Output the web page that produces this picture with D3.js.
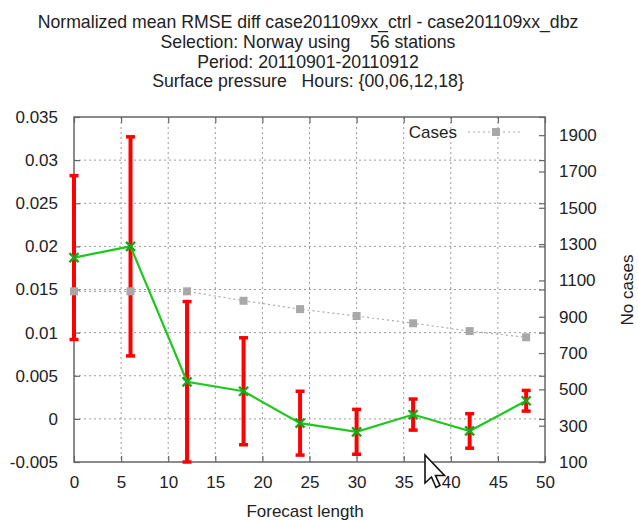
<!DOCTYPE html>
<html>
<head>
<meta charset="utf-8">
<script src="https://cdn.jsdelivr.net/npm/d3@7"></script>
<style>
  html, body { margin: 0; padding: 0; background: #fff; }
  svg { display: block; }
  text { font-family: "Liberation Sans", Arial, sans-serif; fill: #222; }
</style>
</head>
<body>
<script>
// Forecast lead times (hours)
const leads = [0, 6, 12, 18, 24, 30, 36, 42, 48];
// Normalized mean RMSE difference ctrl - dbz
const meanDiff = [0.0187, 0.0200, 0.0043, 0.0032, -0.0005, -0.0015, 0.0005, -0.0014, 0.0021];
// Half-width of the error bar around each mean
const errHalf = [0.0095, 0.0127, 0.0093, 0.0062, 0.0037, 0.0026, 0.0018, 0.0020, 0.0012];
// Number of cases at each lead time (right axis)
const cases = [1040, 1040, 1040, 988, 942, 904, 864, 821, 787];

const xTicks = [0, 5, 10, 15, 20, 25, 30, 35, 40, 45, 50];
const yTicks = [-0.005, 0, 0.005, 0.01, 0.015, 0.02, 0.025, 0.03, 0.035];
const y2Ticks = [100, 300, 500, 700, 900, 1100, 1300, 1500, 1700, 1900];

const titleLines = [
  "Normalized mean RMSE diff case201109xx_ctrl - case201109xx_dbz",
  "Selection: Norway using    56 stations",
  "Period: 20110901-20110912",
  "Surface pressure   Hours: {00,06,12,18}"
];

const W = 638, H = 521;
const L = 74, R = 545, T = 117, B = 462;
const FS = 17;

const svg = d3.select("body").append("svg").attr("width", W).attr("height", H);

const x = d3.scaleLinear().domain([0, 50]).range([L, R]);
const y = d3.scaleLinear().domain([-0.005, 0.035]).range([B, T]);
const y2 = d3.scaleLinear().domain([100, 2000]).range([B, T]);

const axisCol = "#666";
const gridCol = "#9a9a9a";

// Title
svg.append("g").selectAll("text").data(titleLines).join("text")
  .attr("x", 308).attr("y", (d, i) => 28 + i * 19.8)
  .attr("text-anchor", "middle").attr("font-size", 17.7)
  .attr("xml:space", "preserve").style("white-space", "pre")
  .text(d => d);

// Grid
const grid = svg.append("g").attr("stroke", gridCol).attr("stroke-width", 1)
  .attr("stroke-dasharray", "2,3");
grid.selectAll("line.gx").data(xTicks.slice(1, -1)).join("line")
  .attr("x1", d => x(d)).attr("x2", d => x(d)).attr("y1", T).attr("y2", B);
grid.selectAll("line.gy").data(yTicks.slice(1, -1)).join("line")
  .attr("x1", L).attr("x2", R).attr("y1", d => y(d)).attr("y2", d => y(d));

// Axes (ticks point inward, mirrored on opposite sides)
const fmtY = d => d === 0 ? "0" : String(+d.toFixed(3));
const axB = svg.append("g").attr("transform", `translate(0,${B})`)
  .call(d3.axisBottom(x).tickValues(xTicks).tickSizeInner(-6).tickSizeOuter(0).tickPadding(14));
const axT = svg.append("g").attr("transform", `translate(0,${T})`)
  .call(d3.axisTop(x).tickValues(xTicks).tickSizeInner(-6).tickSizeOuter(0).tickFormat(""));
const axL = svg.append("g").attr("transform", `translate(${L},0)`)
  .call(d3.axisLeft(y).tickValues(yTicks).tickSizeInner(-6).tickSizeOuter(0).tickPadding(16).tickFormat(fmtY));
const axR = svg.append("g").attr("transform", `translate(${R},0)`)
  .call(d3.axisRight(y).tickValues(yTicks).tickSizeInner(-6).tickSizeOuter(0).tickFormat(""));
const axR2 = svg.append("g").attr("transform", `translate(${R},0)`)
  .call(d3.axisRight(y2).tickValues(y2Ticks).tickSizeInner(-6).tickSizeOuter(0).tickPadding(14).tickFormat(d3.format("d")));

[axB, axT, axL, axR, axR2].forEach(g => {
  g.select(".domain").remove();
  g.selectAll(".tick line").attr("stroke", axisCol).attr("stroke-width", 1.2);
  g.selectAll(".tick text").attr("font-size", FS).attr("fill", "#333")
    .attr("font-family", "'Liberation Sans', Arial, sans-serif");
});

// Plot border
svg.append("rect").attr("x", L).attr("y", T).attr("width", R - L).attr("height", B - T)
  .attr("fill", "none").attr("stroke", axisCol).attr("stroke-width", 1.5);

// Marks are clipped to the vertical extent of the plot only
svg.append("clipPath").attr("id", "plotclip").append("rect")
  .attr("x", 0).attr("y", T - 2).attr("width", W).attr("height", B - T + 4);
const plot = svg.append("g").attr("clip-path", "url(#plotclip)");

// Error bars
const bars = plot.append("g").attr("stroke", "#ff0000").attr("stroke-width", 4);
leads.forEach((l, i) => {
  const lo = meanDiff[i] - errHalf[i], hi = meanDiff[i] + errHalf[i];
  bars.append("line").attr("x1", x(l)).attr("x2", x(l)).attr("y1", y(lo)).attr("y2", y(hi));
  [lo, hi].forEach(v => bars.append("line").attr("stroke-width", 3.5)
    .attr("x1", x(l) - 4.5).attr("x2", x(l) + 4.5).attr("y1", y(v)).attr("y2", y(v)));
});

// Cases (right axis): dotted gray line with square markers
const casePts = leads.map((l, i) => [x(l), y2(cases[i])]);
plot.append("path").attr("d", d3.line()(casePts)).attr("fill", "none")
  .attr("stroke", "#aaa").attr("stroke-width", 1.2).attr("stroke-dasharray", "2,3");
plot.selectAll("rect.case").data(casePts).join("rect").attr("class", "case")
  .attr("x", d => d[0] - 4).attr("y", d => d[1] - 4).attr("width", 8).attr("height", 8)
  .attr("fill", "#a8a8a8");

// Mean difference: green line with cross markers
const meanPts = leads.map((l, i) => [x(l), y(meanDiff[i])]);
plot.append("path").attr("d", d3.line()(meanPts)).attr("fill", "none")
  .attr("stroke", "#1ec81e").attr("stroke-width", 2.2);
const cross = plot.append("g").attr("stroke", "#1aa61a").attr("stroke-width", 2.4);
meanPts.forEach(([px, py]) => {
  cross.append("line").attr("x1", px - 4.5).attr("x2", px + 4.5).attr("y1", py - 4.5).attr("y2", py + 4.5);
  cross.append("line").attr("x1", px - 4.5).attr("x2", px + 4.5).attr("y1", py + 4.5).attr("y2", py - 4.5);
});

// Legend
svg.append("text").attr("x", 457).attr("y", 138).attr("text-anchor", "end")
  .attr("font-size", FS).attr("fill", "#444").text("Cases");
svg.append("line").attr("x1", 468).attr("x2", 520).attr("y1", 132).attr("y2", 132)
  .attr("stroke", "#aaa").attr("stroke-width", 1.2).attr("stroke-dasharray", "2,3");
svg.append("rect").attr("x", 492).attr("y", 128).attr("width", 8).attr("height", 8).attr("fill", "#a8a8a8");

// Axis titles
svg.append("text").attr("x", 305).attr("y", 517).attr("text-anchor", "middle")
  .attr("font-size", FS).text("Forecast length");
svg.append("text").attr("transform", "translate(633,290) rotate(-90)")
  .attr("text-anchor", "middle").attr("font-size", FS).text("No cases");

// Mouse pointer
const ptr = [[0,0],[0,28],[6.5,22],[11,32.5],[15,30.5],[10.5,20.5],[19.5,20.5]];
svg.append("path").attr("transform", "translate(425,455)")
  .attr("d", d3.line()(ptr) + "Z").attr("fill", "#fff").attr("stroke", "#111")
  .attr("stroke-width", 1.6).attr("stroke-linejoin", "miter");
</script>
</body>
</html>
